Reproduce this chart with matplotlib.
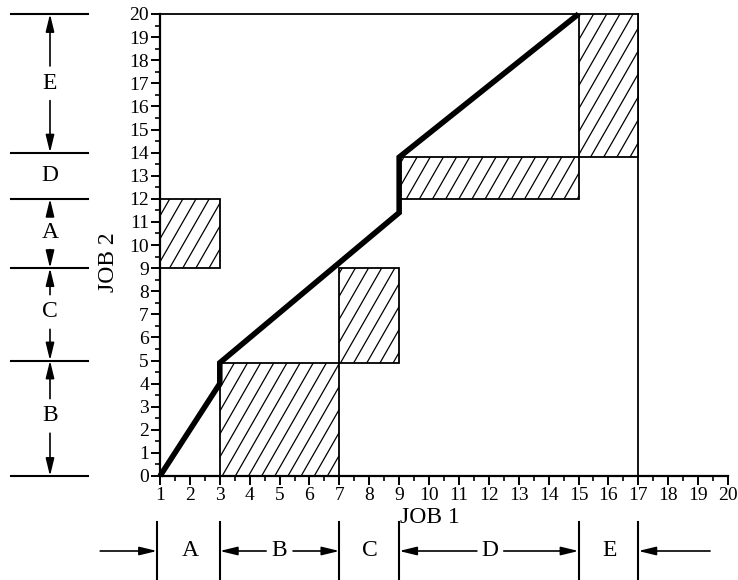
import numpy as np
import matplotlib
matplotlib.use("Agg")
import matplotlib.pyplot as plt
from matplotlib.patches import Rectangle

plt.rcParams['font.family'] = ['Liberation Serif', 'DejaVu Serif']

# ---- data ----
x_ticks = list(range(1, 21))
y_ticks = list(range(0, 21))

# hatched blocked regions: (x0, x1, y0, y1)
rect_x0 = [1, 3, 7, 9, 15]
rect_x1 = [3, 7, 9, 15, 17]
rect_y0 = [9, 0, 4.9, 12, 13.8]
rect_y1 = [12, 4.9, 9, 13.8, 20]

# schedule path
path_x = [1, 3, 3, 9, 9, 15]
path_y = [0, 4, 4.9, 11.4, 13.8, 20]

# job 2 operation boundaries (left) and labels
job2_bounds = [20, 14, 12, 9, 5, 0]
job2_labels = ['E', 'D', 'A', 'C', 'B']
job2_label_y = [17.0, 13.0, 10.55, 7.1, 2.6]

# job 1 operation boundaries (bottom) and labels
job1_bounds = [0.9, 3, 7, 9, 15, 17]
job1_labels = ['A', 'B', 'C', 'D', 'E']
job1_label_x = [2.0, 5.0, 8.03, 12.05, 16.05]

fig = plt.figure(figsize=(7.38, 5.8), dpi=100)
ax = fig.add_axes([160/738, 1-476/580, 568/738, 462/580])
ax.set_xlim(1, 20)
ax.set_ylim(0, 20)

for s in ['top', 'right']:
    ax.spines[s].set_visible(False)
for s in ['left', 'bottom']:
    ax.spines[s].set_linewidth(1.6)

ax.set_xticks(x_ticks)
ax.set_yticks(y_ticks)
ax.set_xticks(np.arange(1.5, 20, 1), minor=True)
ax.set_yticks(np.arange(0.5, 20, 1), minor=True)
ax.tick_params(which='major', direction='out', length=6.5, width=1.4, labelsize=14, pad=1.5)
ax.tick_params(which='minor', direction='out', length=3.5, width=1.2)

# frame pieces
ax.plot([1, 17], [20, 20], color='black', lw=1.3, clip_on=False)
ax.plot([17, 17], [0, 20], color='black', lw=1.3, clip_on=False)

# hatched rectangles with custom steep hatching
hatch_dx = 0.44
hatch_slope = 2.26
for x0, x1, y0, y1 in zip(rect_x0, rect_x1, rect_y0, rect_y1):
    r = Rectangle((x0, y0), x1 - x0, y1 - y0, facecolor='white',
                  edgecolor='black', lw=1.3, zorder=2)
    ax.add_patch(r)
    h = y1 - y0
    run = h / hatch_slope
    start = np.floor((x0 - run) / hatch_dx) * hatch_dx
    for c in np.arange(start, x1 + hatch_dx, hatch_dx):
        ln, = ax.plot([c, c + run], [y0, y1], color='black', lw=0.9, zorder=2.5)
        ln.set_clip_path(r)

# schedule path
ax.plot(path_x, path_y, color='black', lw=4, zorder=5, clip_on=False,
        solid_joinstyle='miter', solid_capstyle='butt')

ax.set_xlabel('JOB 1', fontsize=17)
ax.set_ylabel('JOB 2', fontsize=17)
ax.xaxis.set_label_coords((430-160)/568, -0.068)
ax.yaxis.set_label_coords(-0.073, 0.463)

arrowkw = dict(arrowstyle='-|>,head_length=0.7,head_width=0.17', color='black',
               lw=1.2, mutation_scale=15, shrinkA=0, shrinkB=0)

# ---- left annotation (job 2) ----
ytr = ax.get_yaxis_transform()
lx0, lx1, lxa = (11-160)/568, (88-160)/568, (50-160)/568
for yb in job2_bounds:
    ax.plot([lx0, lx1], [yb, yb], transform=ytr, color='black', lw=1.5, clip_on=False)
for lab, yl, top, bot in zip(job2_labels, job2_label_y, job2_bounds[:-1], job2_bounds[1:]):
    ax.text(lxa, yl, lab, transform=ytr, fontsize=17, ha='center', va='center')
    if top - bot > 2.5:
        gap = 0.75
        ax.annotate('', xy=(lxa, top), xycoords=ytr, xytext=(lxa, yl + gap),
                    textcoords=ytr, arrowprops=arrowkw, annotation_clip=False)
        ax.annotate('', xy=(lxa, bot), xycoords=ytr, xytext=(lxa, yl - gap),
                    textcoords=ytr, arrowprops=arrowkw, annotation_clip=False)

# ---- bottom annotation (job 1) ----
xtr = ax.get_xaxis_transform()
by0, by1, bya = (476-522)/462, (476-580)/462, (476-551)/462
for xb in job1_bounds:
    ax.plot([xb, xb], [by0, by1], transform=xtr, color='black', lw=1.5, clip_on=False)
for lab, xl, left, right in zip(job1_labels, job1_label_x, job1_bounds[:-1], job1_bounds[1:]):
    ax.text(xl, bya, lab, transform=xtr, fontsize=17, ha='center', va='center')
    if right - left > 3:
        gap = 0.45
        ax.annotate('', xy=(left, bya), xycoords=xtr, xytext=(xl - gap, bya),
                    textcoords=xtr, arrowprops=arrowkw, annotation_clip=False)
        ax.annotate('', xy=(right, bya), xycoords=xtr, xytext=(xl + gap, bya),
                    textcoords=xtr, arrowprops=arrowkw, annotation_clip=False)
# outer arrows
ax.annotate('', xy=(job1_bounds[0], bya), xycoords=xtr, xytext=(-1.0, bya),
            textcoords=xtr, arrowprops=arrowkw, annotation_clip=False)
ax.annotate('', xy=(job1_bounds[-1], bya), xycoords=xtr, xytext=(19.4, bya),
            textcoords=xtr, arrowprops=arrowkw, annotation_clip=False)

fig.savefig('out.png', dpi=100)
